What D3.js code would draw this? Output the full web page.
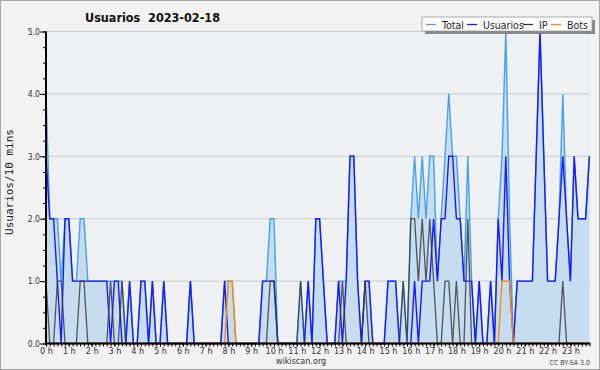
<!DOCTYPE html>
<html><head><meta charset="utf-8">
<script src="https://cdn.jsdelivr.net/npm/d3@7"></script>
<style>
html,body{margin:0;padding:0;background:#f2f2f2;}
svg{display:block;}
text{font-family:"DejaVu Sans Condensed","DejaVu Sans",sans-serif;}
</style></head>
<body><svg id="c" width="600" height="370"></svg>
<script>
const title = "Usuarios  2023-02-18";
const yLabel = "Usuarios/10 mins";
const hourLabels = d3.range(24).map(h => h + " h");
const yTicks = [0, 1, 2, 3, 4, 5];
const seriesNames = ["Total", "Usuarios", "IP", "Bots"];
const total = [
 4,2,2,2,1,2, 2,1,1,2,2,1, 1,1,1,1,1,1, 1,1,1,0,1,0, 0,1,1,0,1,0, 0,1,0,0,0,0,
 0,0,1,0,0,0, 0,0,0,0,0,1, 1,1,0,0,0,0, 0,0,0,1,1,2, 2,0,0,0,0,0, 0,1,0,1,0,2,
 2,1,0,0,0,1, 1,1,3,3,1,0, 1,1,0,0,0,0, 1,1,1,0,1,0, 2,3,2,3,2,3, 3,1,2,3,4,3,
 3,2,1,3,1,0, 1,0,0,1,0,2, 3,5,2,0,1,1, 1,1,1,3,5,3, 1,1,1,2,4,2, 1,3,2,2,2,3];
const usuarios = [
 3,2,2,1,0,2, 2,1,1,1,1,1, 1,1,1,1,1,0, 1,1,0,0,1,0, 0,1,1,0,1,0, 0,1,0,0,0,0,
 0,0,1,0,0,0, 0,0,0,0,0,1, 0,0,0,0,0,0, 0,0,0,1,1,1, 1,0,0,0,0,0, 0,0,0,1,0,2,
 2,1,0,0,0,1, 0,1,3,3,1,0, 1,1,0,0,0,0, 1,1,1,0,0,0, 0,1,0,1,1,1, 2,1,2,2,3,3,
 2,2,1,1,1,0, 1,0,0,1,0,2, 1,3,1,0,1,1, 1,1,1,3,5,3, 1,1,1,2,3,2, 1,3,2,2,2,3];
const ip = [
 1,0,0,1,1,0, 0,0,0,1,1,0, 0,0,0,0,0,1, 0,0,1,0,0,0, 0,0,0,0,0,0, 0,0,0,0,0,0,
 0,0,0,0,0,0, 0,0,0,0,0,0, 0,0,0,0,0,0, 0,0,0,0,0,1, 1,0,0,0,0,0, 0,1,0,0,0,0,
 0,0,0,0,0,0, 1,0,0,0,0,0, 1,0,0,0,0,0, 0,0,0,0,1,0, 2,2,1,2,1,2, 1,0,0,1,1,0,
 1,0,0,2,0,0, 0,0,0,0,0,0, 0,0,0,0,0,0, 0,0,0,0,0,0, 0,0,0,0,1,0, 0,0,0,0,0,0];
const bots = [
 0,0,0,0,0,0, 0,0,0,0,0,0, 0,0,0,0,0,0, 0,0,0,0,0,0, 0,0,0,0,0,0, 0,0,0,0,0,0,
 0,0,0,0,0,0, 0,0,0,0,0,0, 1,1,0,0,0,0, 0,0,0,0,0,0, 0,0,0,0,0,0, 0,0,0,0,0,0,
 0,0,0,0,0,0, 0,0,0,0,0,0, 0,0,0,0,0,0, 0,0,0,0,0,0, 0,0,0,0,0,0, 0,0,0,0,0,0,
 0,0,0,0,0,0, 0,0,0,0,0,0, 1,1,1,0,0,0, 0,0,0,0,0,0, 0,0,0,0,0,0, 0,0,0,0,0,0];

const colors = {Total:"#45a2f2", Usuarios:"#1a1aff", IP:"#333333", Bots:"#ff8c00"};
const fillTotal = "#c6dcef";

const svg = d3.select("#c");
const W = 600, H = 370;
const L = 46, R = 589.4, T = 31.5, B = 343.5;

svg.append("rect").attr("x",0.5).attr("y",0.5).attr("width",W-1).attr("height",H-1)
  .attr("fill","#f2f2f2").attr("stroke","#a8a8a8").attr("stroke-width",1);
svg.append("rect").attr("x",L).attr("y",T).attr("width",R-L).attr("height",B-T).attr("fill","#eef0f2");

const x = d3.scaleLinear().domain([0, 143]).range([L, R]);
const y = d3.scaleLinear().domain([0, 5]).range([B, T]);

// grid
svg.append("g").selectAll("line").data(yTicks.slice(1)).join("line")
  .attr("x1",L).attr("x2",R).attr("y1",d=>y(d)).attr("y2",d=>y(d))
  .attr("stroke","#cbcbcb").attr("stroke-width",1);

// series
const idx = d3.range(total.length);
svg.append("path").datum(idx)
  .attr("d", d3.area().x(i=>x(i)).y0(y(0)).y1(i=>y(total[i])))
  .attr("fill", fillTotal);
const line = arr => d3.line().x(i=>x(i)).y(i=>y(arr[i]));
svg.append("path").datum(idx).attr("d", line(total)).attr("fill","none")
  .attr("stroke",colors.Total).attr("stroke-width",1.4);
svg.append("path").datum(idx).attr("d", line(usuarios)).attr("fill","none")
  .attr("stroke",colors.Usuarios).attr("stroke-width",1.4);
svg.append("path").datum(idx).attr("d", line(ip)).attr("fill","none")
  .attr("stroke",colors.IP).attr("stroke-width",1.3).attr("stroke-opacity",0.8);
svg.append("path").datum(idx).attr("d", line(bots)).attr("fill","none")
  .attr("stroke",colors.Bots).attr("stroke-width",1.4);

// x axis
const xAxisMinor = d3.axisBottom(x).tickValues(idx).tickSize(3).tickFormat("").tickSizeOuter(0);
const gxm = svg.append("g").attr("transform",`translate(0,${B})`).call(xAxisMinor);
gxm.select(".domain").remove();
gxm.selectAll("line").attr("stroke","#000");
const xAxis = d3.axisBottom(x).tickValues(d3.range(0,144,6)).tickSize(3)
  .tickFormat(d=>hourLabels[d/6]).tickSizeOuter(0);
const gx = svg.append("g").attr("transform",`translate(0,${B})`).call(xAxis);
gx.select(".domain").attr("stroke","#000").attr("stroke-width",2).attr("d",`M${L-1},0H${R+1}`);
gx.selectAll("text").attr("font-size","9px").attr("fill","#333").attr("dy","0.55em")
  .attr("font-family","'DejaVu Sans Condensed','DejaVu Sans',sans-serif");

// y axis
const yMinor = d3.axisLeft(y).tickValues(d3.range(0,5.01,0.25)).tickSize(3).tickFormat("").tickSizeOuter(0);
const gym = svg.append("g").attr("transform",`translate(${L},0)`).call(yMinor);
gym.select(".domain").remove();
const yAxis = d3.axisLeft(y).tickValues(yTicks).tickSize(6).tickFormat(d3.format(".1f")).tickSizeOuter(0);
const gy = svg.append("g").attr("transform",`translate(${L},0)`).call(yAxis);
gy.select(".domain").attr("stroke","#000").attr("stroke-width",2).attr("d",`M0,${T}V${B+1}`);
gy.selectAll("text").attr("font-size","8.5px").attr("fill","#333").attr("x",-6)
  .attr("font-family","'DejaVu Sans Condensed','DejaVu Sans',sans-serif");

// titles
svg.append("text").attr("x",85).attr("y",22).attr("font-size","12.5px").attr("font-weight","bold")
  .attr("fill","#111").attr("xml:space","preserve").style("white-space","pre").text(title);
svg.append("text").attr("transform","translate(13,182) rotate(-90)").attr("text-anchor","middle")
  .style("font-family","'DejaVu Sans Mono','Liberation Mono',monospace").attr("font-size","11px").attr("fill","#222")
  .text(yLabel);
svg.append("text").attr("x",301).attr("y",364).attr("text-anchor","middle").attr("font-size","9px")
  .attr("fill","#333").text("wikiscan.org");
svg.append("text").attr("x",590).attr("y",365).attr("text-anchor","end").attr("font-size","7px")
  .attr("fill","#444").text("CC BY-SA 3.0");

// legend
const lg = svg.append("g");
lg.append("rect").attr("x",425).attr("y",20).attr("width",170).attr("height",14).attr("fill","#888");
lg.append("rect").attr("x",422).attr("y",17).attr("width",170).attr("height",14)
  .attr("fill","#fff").attr("stroke","#999").attr("stroke-width",0.8);
const legX = [426, 467, 523, 551];
seriesNames.forEach((n,k)=>{
  lg.append("line").attr("x1",legX[k]).attr("x2",legX[k]+10).attr("y1",24.5).attr("y2",24.5)
    .attr("stroke",colors[n]).attr("stroke-width",1.3);
  lg.append("text").attr("x",legX[k]+16).attr("y",28.5).attr("font-size","10.5px").attr("fill","#222").text(n);
});
</script></body></html>
